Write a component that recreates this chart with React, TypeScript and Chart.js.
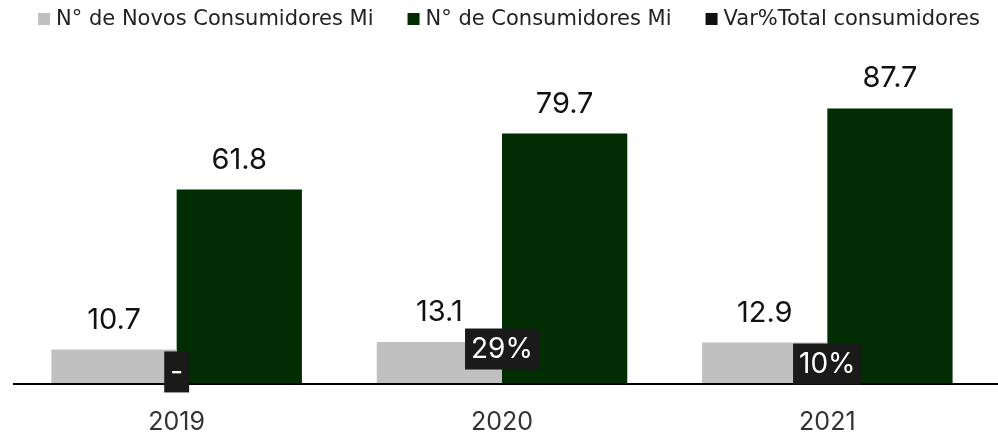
import React, { useEffect, useRef } from "react";
import { Chart, registerables } from "chart.js";

Chart.register(...registerables);

const categories = ["2019", "2020", "2021"];
const novos = [10.7, 13.1, 12.9];
const consumidores = [61.8, 79.7, 87.7];
const varTotal = [0, 29, 10];
const varLabels = ["-", "29%", "10%"];
const seriesNames = ["N° de Novos Consumidores Mi", "N° de Consumidores Mi", "Var%Total consumidores"];
const seriesColors = ["#c0c0c0", "#022c02", "#111111"];

const FONT = "Inter, 'Open Sans', sans-serif";
const LEGEND_FONT = "'DejaVu Sans', sans-serif";

const axisLinePlugin = {
  id: "axisLine",
  beforeDatasetsDraw(chart: any) {
    const ctx = chart.ctx;
    const y = chart.scales.y.getPixelForValue(0);
    ctx.save();
    ctx.strokeStyle = "#000000";
    ctx.lineWidth = 2;
    ctx.beginPath();
    ctx.moveTo(chart.chartArea.left - 1, y + 1);
    ctx.lineTo(chart.width, y + 1);
    ctx.stroke();
    ctx.restore();
  },
};

const labelPlugin = {
  id: "customLabels",
  afterDatasetsDraw(chart: any) {
    const ctx = chart.ctx;
    ctx.save();
    [0, 1].forEach((di) => {
      const meta = chart.getDatasetMeta(di);
      const ds = chart.data.datasets[di];
      meta.data.forEach((bar: any, i: number) => {
        ctx.font = `400 29px ${FONT}`;
        ctx.fillStyle = "#111111";
        ctx.textAlign = "center";
        ctx.textBaseline = "alphabetic";
        ctx.fillText(String(ds.data[i]), bar.x, bar.y - 21);
      });
    });
    const meta = chart.getDatasetMeta(2);
    meta.data.forEach((pt: any, i: number) => {
      const txt = varLabels[i];
      ctx.font = `400 28px ${FONT}`;
      const w = ctx.measureText(txt).width;
      const bw = w + 12;
      const bh = 41;
      ctx.fillStyle = "#1a1a1a";
      ctx.fillRect(pt.x - bw / 2, pt.y - bh / 2, bw, bh);
      ctx.fillStyle = "#ffffff";
      ctx.textAlign = "center";
      ctx.textBaseline = "middle";
      ctx.fillText(txt, pt.x, pt.y + 1);
    });
    ctx.restore();
  },
};

const legendPlugin = {
  id: "customLegend",
  afterDraw(chart: any) {
    const ctx = chart.ctx;
    ctx.save();
    ctx.font = `400 21px ${LEGEND_FONT}`;
    const box = 12;
    const gapBox = 6;
    const gapItem = 34;
    const widths = seriesNames.map((t) => ctx.measureText(t).width);
    const total =
      widths.reduce((a, b) => a + b, 0) + seriesNames.length * (box + gapBox) + gapItem * (seriesNames.length - 1);
    let x = (chart.chartArea.left + chart.chartArea.right) / 2 - total / 2 + 7;
    const cy = 19;
    seriesNames.forEach((t, i) => {
      ctx.fillStyle = seriesColors[i];
      ctx.fillRect(x, cy - box / 2, box, box);
      x += box + gapBox;
      ctx.fillStyle = "#222222";
      ctx.textAlign = "left";
      ctx.textBaseline = "middle";
      ctx.fillText(t, x, cy + 1);
      x += widths[i] + gapItem;
    });
    ctx.restore();
  },
};

export default function App() {
  const ref = useRef<HTMLCanvasElement | null>(null);
  useEffect(() => {
    document.body.style.margin = "0";
    const chart = new Chart(ref.current as HTMLCanvasElement, {
      type: "bar",
      data: {
        labels: categories,
        datasets: [
          {
            label: seriesNames[0],
            data: novos,
            backgroundColor: seriesColors[0],
            categoryPercentage: 0.77,
            barPercentage: 1,
          },
          {
            label: seriesNames[1],
            data: consumidores,
            backgroundColor: seriesColors[1],
            categoryPercentage: 0.77,
            barPercentage: 1,
          },
          {
            type: "line",
            label: seriesNames[2],
            data: varTotal,
            yAxisID: "y1",
            showLine: false,
            pointRadius: 0,
            backgroundColor: seriesColors[2],
            borderColor: seriesColors[2],
          } as any,
        ],
      },
      options: {
        responsive: false,
        animation: false,
        layout: { padding: { left: 14, right: 8, top: 70, bottom: -20 } },
        plugins: {
          legend: { display: false },
          tooltip: { enabled: false },
        },
        scales: {
          x: {
            grid: { display: false },
            border: { display: false },
            ticks: { color: "#333333", font: { family: FONT, size: 25 }, padding: 16 },
          },
          y: {
            display: false,
            min: 0,
            max: 100,
          },
          y1: {
            display: false,
            min: -14,
            max: 382,
          },
        },
      },
      plugins: [axisLinePlugin, labelPlugin, legendPlugin],
    });
    return () => chart.destroy();
  }, []);
  return (
    <div style={{ width: 998, height: 433 }}>
      <canvas ref={ref} width={998} height={433} />
    </div>
  );
}
